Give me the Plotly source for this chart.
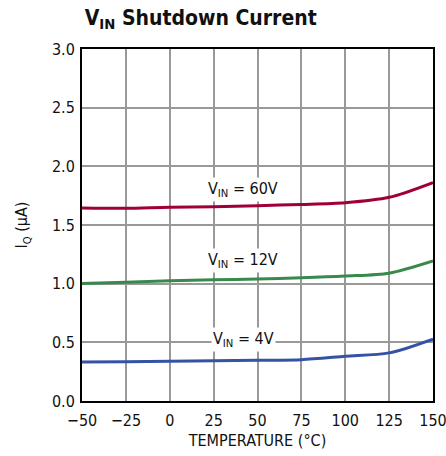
import plotly.graph_objects as go

temperature = [-50, -25, 0, 25, 50, 75, 100, 125, 150]
iq_60v = [1.645, 1.642, 1.652, 1.655, 1.665, 1.675, 1.690, 1.736, 1.862]
iq_12v = [1.002, 1.012, 1.025, 1.033, 1.040, 1.050, 1.065, 1.089, 1.193]
iq_4v = [0.332, 0.334, 0.338, 0.342, 0.347, 0.352, 0.381, 0.410, 0.528]
series_names = ["V<sub>IN</sub> = 60V", "V<sub>IN</sub> = 12V", "V<sub>IN</sub> = 4V"]
x_ticks = [-50, -25, 0, 25, 50, 75, 100, 125, 150]
y_ticks = [0.0, 0.5, 1.0, 1.5, 2.0, 2.5, 3.0]

FONT = "DejaVu Sans Condensed, Liberation Sans Narrow, Liberation Sans, sans-serif"
colors = ["#a0003a", "#388a4c", "#3553a5"]
label_pos = [(42, 1.80), (42, 1.20), (42, 0.52)]

fig = go.Figure()
for ys, name, c in zip([iq_60v, iq_12v, iq_4v], series_names, colors):
    fig.add_trace(go.Scatter(x=temperature, y=ys, mode="lines", name=name,
                             line=dict(color=c, width=3, shape="spline", smoothing=0.8),
                             showlegend=False))

for name, (lx, ly) in zip(series_names, label_pos):
    fig.add_annotation(x=lx, y=ly, text=name, showarrow=False, bgcolor="white",
                       font=dict(family=FONT, size=16, color="#111"), borderpad=1)

axis_common = dict(showline=True, linecolor="black", linewidth=2, mirror=True,
                   showgrid=True, gridcolor="#999999", gridwidth=1.5, zeroline=False,
                   ticks="", automargin=False, ticklabeloverflow="allow",
                   tickfont=dict(family=FONT, size=16, color="#111"))

fig.update_xaxes(range=[-50, 150], tickvals=x_ticks, ticktext=[str(v).replace("-", "\u2212") for v in x_ticks],
                 ticklabelstandoff=4,
                 title=dict(text="TEMPERATURE (°C)", font=dict(family=FONT, size=16, color="#111"), standoff=6),
                 **axis_common)
fig.update_yaxes(range=[0, 3], tickvals=y_ticks, ticktext=[f"{v:.1f}" for v in y_ticks],
                 ticklabelstandoff=2,
                 title=dict(text="I<sub>Q</sub> (µA)", font=dict(family=FONT, size=16, color="#111"), standoff=20),
                 **axis_common)

fig.update_layout(
    width=446, height=456,
    margin=dict(l=82, r=13, t=49, b=55),
    paper_bgcolor="white", plot_bgcolor="white",
    title=dict(text="<b>V<sub>IN</sub> Shutdown Current</b>", x=0.19, xanchor="left", y=0.962, yanchor="middle",
               font=dict(family=FONT, size=21, color="#111")),
)

fig.write_html("out.html", config={"displayModeBar": False},
               post_script="document.body.style.margin='0';")
